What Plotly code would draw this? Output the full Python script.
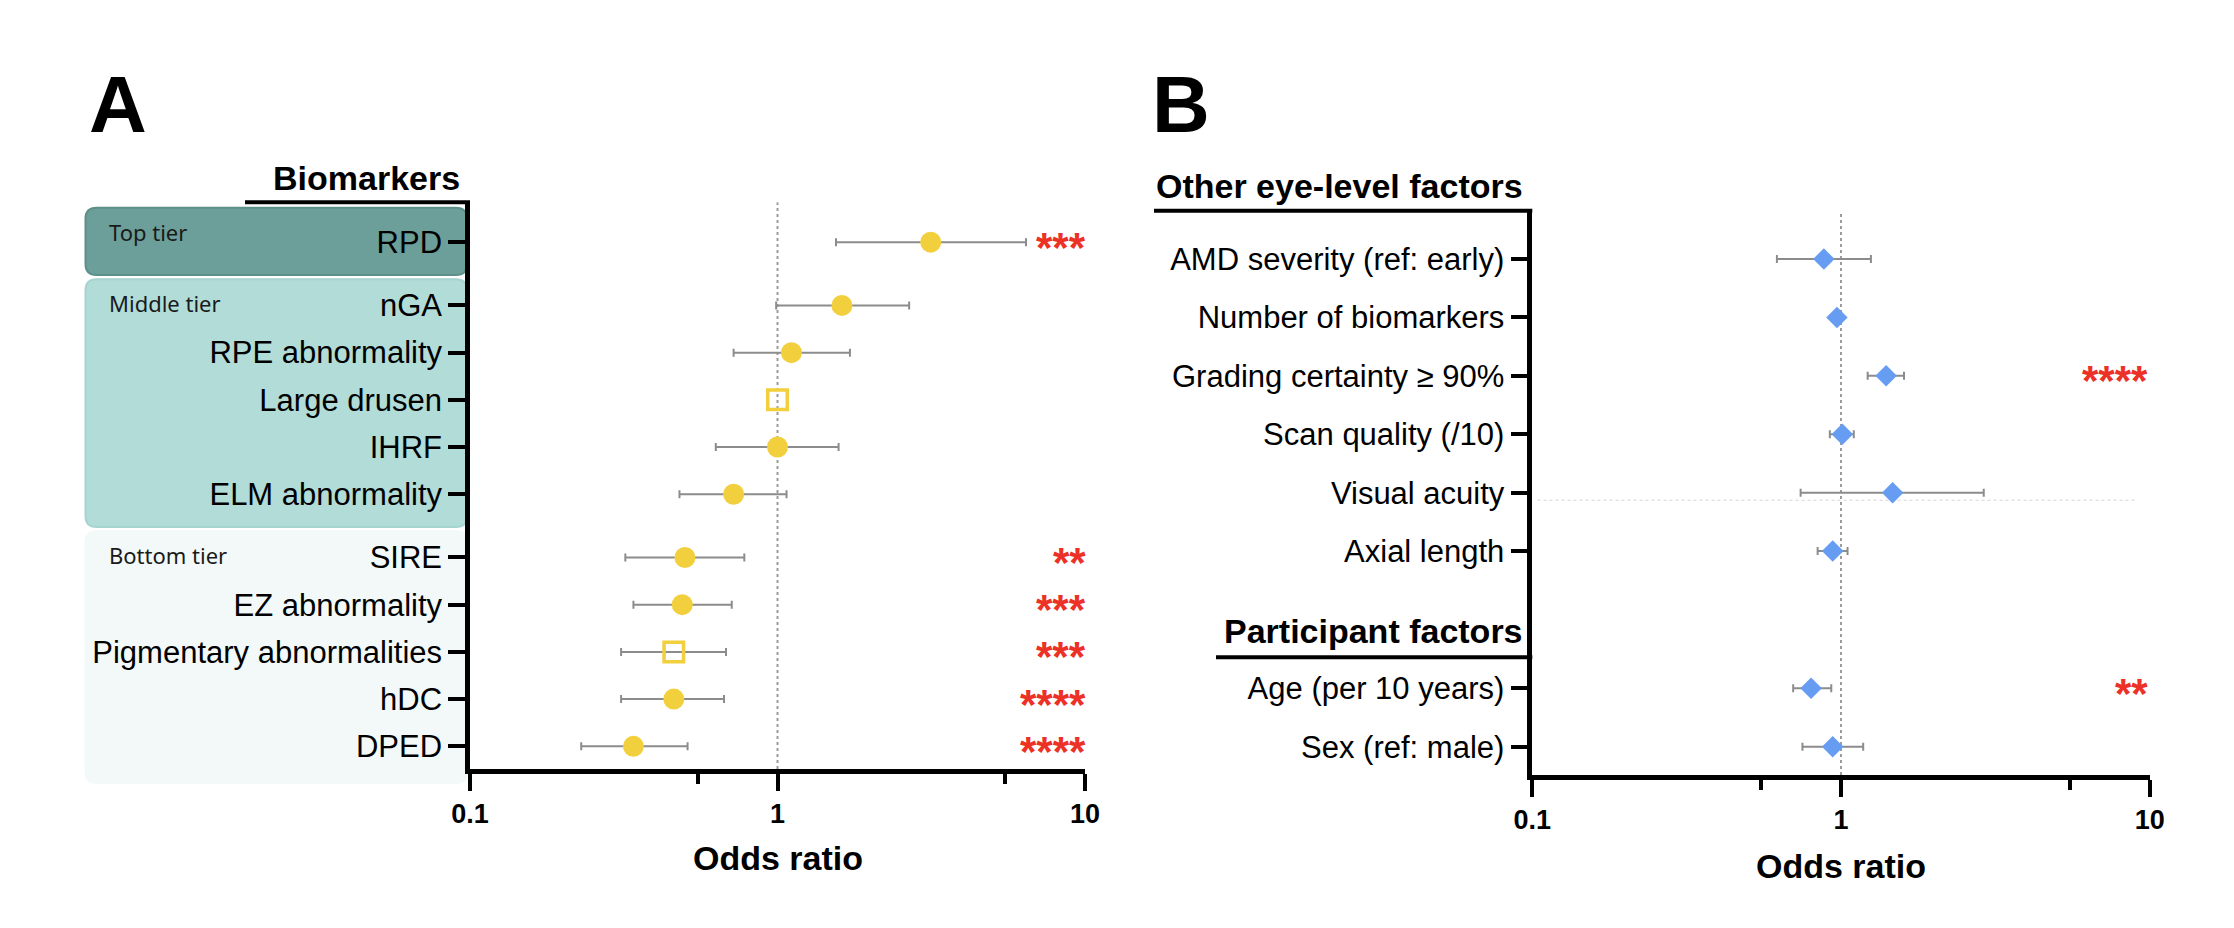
import math
import plotly.graph_objects as go

W, H = 2234, 928

# ---------------- Data: panel A (biomarkers) ----------------
bio_labels = ["RPD", "nGA", "RPE abnormality", "Large drusen", "IHRF", "ELM abnormality",
              "SIRE", "EZ abnormality", "Pigmentary abnormalities", "hDC", "DPED"]
bio_tiers = ["Top tier", "Middle tier", "Middle tier", "Middle tier", "Middle tier", "Middle tier",
             "Bottom tier", "Bottom tier", "Bottom tier", "Bottom tier", "Bottom tier"]
bio_or = [3.15, 1.62, 1.11, 1.00, 1.00, 0.72, 0.50, 0.49, 0.46, 0.46, 0.34]
bio_lo = [1.55, 0.99, 0.72, None, 0.63, 0.48, 0.32, 0.34, 0.31, 0.31, 0.23]
bio_hi = [6.43, 2.68, 1.72, None, 1.58, 1.07, 0.78, 0.71, 0.68, 0.67, 0.51]
bio_ref = [False, False, False, True, False, False, False, False, True, False, False]
bio_sig = ["***", "", "", "", "", "", "**", "***", "***", "****", "****"]

# ---------------- Data: panel B (other factors) ----------------
oth_labels = ["AMD severity (ref: early)", "Number of biomarkers", "Grading certainty \u2265 90%",
              "Scan quality (/10)", "Visual acuity", "Axial length",
              "Age (per 10 years)", "Sex (ref: male)"]
oth_groups = ["Other eye-level factors"] * 6 + ["Participant factors"] * 2
oth_or = [0.88, 0.97, 1.40, 1.01, 1.47, 0.94, 0.80, 0.94]
oth_lo = [0.62, 0.95, 1.22, 0.92, 0.74, 0.84, 0.70, 0.75]
oth_hi = [1.25, 0.99, 1.60, 1.10, 2.90, 1.05, 0.93, 1.18]
oth_sig = ["", "", "****", "", "", "", "**", ""]

tick_vals = [0.1, 1, 10]
tick_text = ["0.1", "1", "10"]
minor_vals = [0.55, 5.5]

# ---------------- Styles ----------------
YELLOW = "#f2cf3c"
BLUE = "#669df2"
ERR = "#8c8c8c"
STAR = "#ec3127"
FONT = "Liberation Sans, Arial, sans-serif"
TIER_FONT = "Noto Sans, Open Sans, sans-serif"
tier_fill = {"Top tier": "#6c9f99", "Middle tier": "#b1dcd8", "Bottom tier": "#f2f9f8"}
tier_line = {"Top tier": "#5c9089", "Middle tier": "#a6d4d0", "Bottom tier": "#f2f9f8"}


def stack_positions(groups, gap):
    ys = [0.0] * len(groups)
    y = 0.0
    for i in range(len(groups) - 1, -1, -1):
        if i < len(groups) - 1:
            y += gap if groups[i] != groups[i + 1] else 1.0
        ys[i] = y
    return ys


yA = stack_positions(bio_tiers, 1.34)
yB = stack_positions(oth_groups, 2.35)

# pixel layout -> paper domains
A_x = [470 / W, 1085 / W]
A_y = [1 - 769 / H, 1 - 202.3 / H]
B_x = [1532.3 / W, 2149.7 / W]
B_y = [1 - 775 / H, 1 - 210.7 / H]
A_range = [-0.481, max(yA) + 0.845]
B_range = [-0.485, max(yB) + 0.828]

fig = go.Figure()

# reference lines at OR = 1
fig.add_trace(go.Scatter(x=[1, 1], y=A_range, mode="lines", xaxis="x", yaxis="y",
                         line=dict(color="#9c9c9c", width=2, dash="dot"),
                         showlegend=False, hoverinfo="skip"))
fig.add_trace(go.Scatter(x=[1, 1], y=B_range, mode="lines", xaxis="x2", yaxis="y2",
                         line=dict(color="#9c9c9c", width=2, dash="dot"),
                         showlegend=False, hoverinfo="skip"))
# faint dotted guide under "Visual acuity"
iv = oth_labels.index("Visual acuity")
fig.add_trace(go.Scatter(x=[0.104, 9.0], y=[yB[iv] - 0.13] * 2, mode="lines", xaxis="x2", yaxis="y2",
                         line=dict(color="#d4d4d4", width=1, dash="dot"),
                         showlegend=False, hoverinfo="skip"))

# panel A error bars
idx = [i for i in range(len(bio_or)) if bio_lo[i] is not None]
fig.add_trace(go.Scatter(
    x=[bio_or[i] for i in idx], y=[yA[i] for i in idx], mode="markers",
    marker=dict(size=2, opacity=0), xaxis="x", yaxis="y",
    error_x=dict(type="data", symmetric=False,
                 array=[bio_hi[i] - bio_or[i] for i in idx],
                 arrayminus=[bio_or[i] - bio_lo[i] for i in idx],
                 color=ERR, thickness=2, width=4),
    showlegend=False, hoverinfo="skip"))
# panel A markers
fig.add_trace(go.Scatter(
    x=bio_or, y=yA, mode="markers", xaxis="x", yaxis="y",
    marker=dict(symbol=["square-open" if r else "circle" for r in bio_ref],
                size=[19.5 if r else 21 for r in bio_ref],
                color=YELLOW, opacity=1,
                line=dict(color=YELLOW, width=[3.5 if r else 0 for r in bio_ref])),
    showlegend=False))

# panel B error bars + markers
fig.add_trace(go.Scatter(
    x=oth_or, y=yB, mode="markers", xaxis="x2", yaxis="y2",
    marker=dict(size=2, opacity=0),
    error_x=dict(type="data", symmetric=False,
                 array=[h - o for h, o in zip(oth_hi, oth_or)],
                 arrayminus=[o - l for o, l in zip(oth_or, oth_lo)],
                 color=ERR, thickness=2, width=4),
    showlegend=False, hoverinfo="skip"))
fig.add_trace(go.Scatter(
    x=oth_or, y=yB, mode="markers", xaxis="x2", yaxis="y2",
    marker=dict(symbol="diamond", size=16.5, color=BLUE, opacity=1, line=dict(width=0)),
    showlegend=False))

axis_common = dict(showline=True, linewidth=4.5, linecolor="black", showgrid=False,
                   zeroline=False, ticks="outside", tickcolor="black", automargin=False)
xcommon = dict(axis_common, type="log", range=[-1, 1], tickvals=tick_vals, ticktext=tick_text,
               ticklen=17, tickwidth=4,
               tickfont=dict(family=FONT, size=27, color="black", weight="bold"),
               minor=dict(tickvals=minor_vals, ticks="outside", ticklen=10, tickwidth=4,
                          tickcolor="black", showgrid=False))
ycommon = dict(axis_common, ticklen=17, tickwidth=3.5,
               tickfont=dict(family=FONT, size=31, color="black"))

fig.update_layout(
    width=W, height=H, margin=dict(l=0, r=0, t=0, b=0, autoexpand=False),
    paper_bgcolor="white", plot_bgcolor="rgba(0,0,0,0)",
    xaxis=dict(xcommon, domain=A_x, anchor="y"),
    yaxis=dict(ycommon, domain=A_y, anchor="x", range=A_range, tickvals=yA, ticktext=bio_labels),
    xaxis2=dict(xcommon, domain=B_x, anchor="y2"),
    yaxis2=dict(ycommon, domain=B_y, anchor="x2", range=B_range, tickvals=yB, ticktext=oth_labels),
)

shapes = []
annotations = []


def rounded_path(x0, x1, y0, y1, rx, ry):
    return (f"M {x0 + rx},{y0} L {x1 - rx},{y0} Q {x1},{y0} {x1},{y0 + ry} "
            f"L {x1},{y1 - ry} Q {x1},{y1} {x1 - rx},{y1} L {x0 + rx},{y1} "
            f"Q {x0},{y1} {x0},{y1 - ry} L {x0},{y0 + ry} Q {x0},{y0} {x0 + rx},{y0} Z")


def ydom(v, rng):
    return (v - rng[0]) / (rng[1] - rng[0])


# tier boxes (panel A) -- positioned from the row positions, in axis-domain units
a_len = (A_x[1] - A_x[0]) * W
a_hpx = (A_y[1] - A_y[0]) * H
tiers = []
for t in bio_tiers:
    if t not in tiers:
        tiers.append(t)
for k, t in enumerate(tiers):
    rows = [yA[i] for i in range(len(bio_tiers)) if bio_tiers[i] == t]
    if k == 0:
        top = max(rows) + 0.73
    else:
        prev = min(yA[i] for i in range(len(bio_tiers)) if bio_tiers[i] == tiers[k - 1])
        top = (prev + max(rows)) / 2 - 0.07 - 0.045
    if k == len(tiers) - 1:
        bot = min(rows) - 0.78
    else:
        nxt = max(yA[i] for i in range(len(bio_tiers)) if bio_tiers[i] == tiers[k + 1])
        bot = (nxt + min(rows)) / 2 - 0.07 + 0.045
    x0 = (85.5 - 470) / a_len
    x1 = (467 - 470) / a_len
    shapes.append(dict(type="path", xref="x domain", yref="y domain", layer="below",
                       path=rounded_path(x0, x1, ydom(bot, A_range), ydom(top, A_range),
                                         11 / a_len, 11 / a_hpx),
                       fillcolor=tier_fill[t], line=dict(color=tier_line[t], width=2)))
    annotations.append(dict(text=t, xref="x domain", yref="y domain", x=(107 - 470) / a_len,
                            y=ydom(top, A_range),
                            xanchor="left", yanchor="middle", yshift=-24, showarrow=False,
                            font=dict(family=TIER_FONT, size=22, color="#1a1a1a")))

# headings and their rules
b_len = (B_x[1] - B_x[0]) * W
HEAD = dict(family=FONT, size=34, color="black", weight="bold")
shapes.append(dict(type="line", xref="x domain", yref="y domain", x0=(245 - 470) / a_len, x1=0,
                   y0=1, y1=1, line=dict(color="black", width=4)))
annotations.append(dict(text="Biomarkers", xref="x domain", yref="y domain", x=(462 - 470) / a_len,
                        y=1, xanchor="right", yanchor="middle", yshift=24, showarrow=False,
                        font=HEAD))
shapes.append(dict(type="line", xref="x2 domain", yref="y2 domain", x0=(1154 - 1532.3) / b_len, x1=0,
                   y0=1, y1=1, line=dict(color="black", width=4)))
annotations.append(dict(text="Other eye-level factors", xref="x2 domain", yref="y2 domain",
                        x=(1525 - 1532.3) / b_len, y=1, xanchor="right", yanchor="middle", yshift=25,
                        showarrow=False, font=HEAD))
ip = oth_groups.index("Participant factors")
shapes.append(dict(type="line", xref="x2 domain", yref="y2 domain", x0=(1216 - 1532.3) / b_len, x1=0,
                   y0=ydom(yB[ip] + 0.53, B_range), y1=ydom(yB[ip] + 0.53, B_range),
                   line=dict(color="black", width=4)))
annotations.append(dict(text="Participant factors", xref="x2 domain", yref="y2 domain",
                        x=(1525 - 1532.3) / b_len, y=ydom(yB[ip] + 0.53, B_range),
                        xanchor="right", yanchor="middle",
                        yshift=26, showarrow=False, font=HEAD))

# significance stars
for yv, s in zip(yA, bio_sig):
    if s:
        annotations.append(dict(text=s, xref="x domain", yref="y", x=1, y=yv, xanchor="right",
                                yanchor="middle", yshift=-5, xshift=3, showarrow=False,
                                font=dict(family=FONT, size=42, color=STAR, weight="bold")))
for yv, s in zip(yB, oth_sig):
    if s:
        annotations.append(dict(text=s, xref="x2 domain", yref="y2", x=1, y=yv, xanchor="right",
                                yanchor="middle", yshift=-5, showarrow=False,
                                font=dict(family=FONT, size=42, color=STAR, weight="bold")))

# axis titles
annotations.append(dict(text="Odds ratio", xref="x domain", yref="y domain", x=0.5, y=0,
                        xanchor="center", yanchor="middle", yshift=-89, showarrow=False,
                        font=HEAD))
annotations.append(dict(text="Odds ratio", xref="x2 domain", yref="y2 domain", x=0.5, y=0,
                        xanchor="center", yanchor="middle", yshift=-91, showarrow=False,
                        font=HEAD))

# panel letters
annotations.append(dict(text="A", xref="paper", yref="paper", x=118 / W, y=1 - 104.5 / H,
                        xanchor="center", yanchor="middle", showarrow=False,
                        font=dict(family=FONT, size=80, color="black", weight="bold")))
annotations.append(dict(text="B", xref="paper", yref="paper", x=1181 / W, y=1 - 105 / H,
                        xanchor="center", yanchor="middle", showarrow=False,
                        font=dict(family=FONT, size=80, color="black", weight="bold")))

fig.update_layout(shapes=shapes, annotations=annotations)
fig.write_html("out.html", config={"displayModeBar": False},
               post_script="document.body.style.margin='0px';document.body.style.overflow='hidden';")
